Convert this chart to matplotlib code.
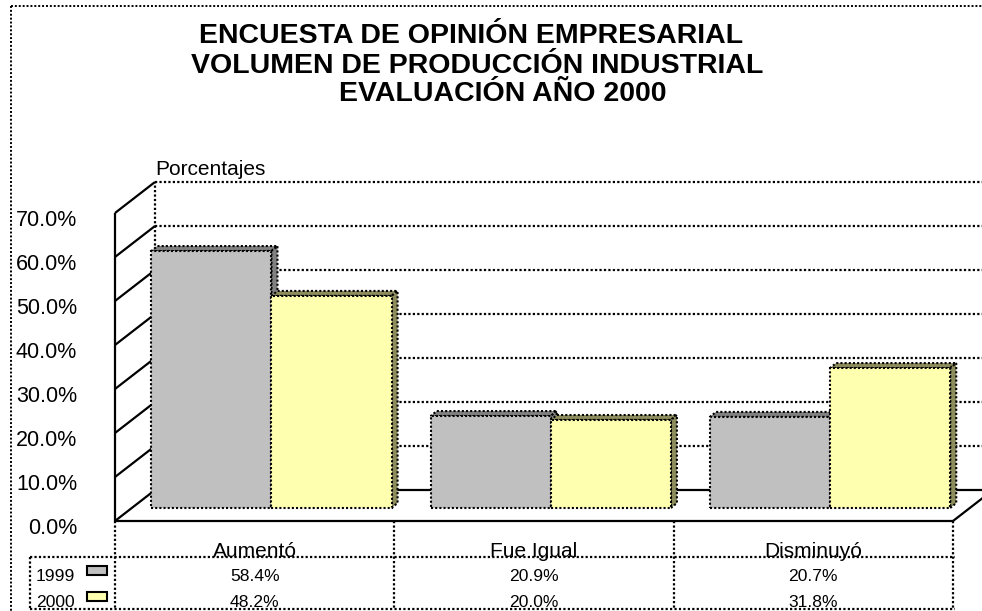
import matplotlib
matplotlib.use("Agg")
import matplotlib.pyplot as plt
import matplotlib.transforms as mtransforms
from matplotlib.patches import Polygon, Rectangle

# data
categories = ["Aumentó", "Fue Igual", "Disminuyó"]
years = ["1999", "2000"]
values_1999 = [58.4, 20.9, 20.7]
values_2000 = [48.2, 20.0, 31.8]
series = {"1999": values_1999, "2000": values_2000}
yticks = [0, 10, 20, 30, 40, 50, 60, 70]
title_lines = ["ENCUESTA DE OPINIÓN EMPRESARIAL",
               "VOLUMEN DE PRODUCCIÓN INDUSTRIAL",
               "EVALUACIÓN AÑO 2000"]

face = {"1999": "#C0C0C0", "2000": "#FFFFB0"}
shade = {"1999": "#808080", "2000": "#8C8C5C"}

plt.rcParams["font.family"] = ["Liberation Sans", "DejaVu Sans"]

W, H, DPI = 982, 611, 100
fig = plt.figure(figsize=(W / DPI, H / DPI), dpi=DPI)
fig.patch.set_facecolor("white")
# pixel coords, origin top-left
pix = mtransforms.Affine2D().scale(1 / DPI, -1 / DPI).translate(0, H / DPI) + fig.dpi_scale_trans


def fx(x):
    return x / W


def fy(y):
    return 1 - y / H


# front plane of the 3d box
ax = fig.add_axes([fx(115), fy(521), fx(953) - fx(115), fy(213) - fy(521)])
ax.set_xlim(-0.5, 2.5)
ax.set_ylim(0, 70)
ax.axis("off")

DEPTH = (40, 31)      # pixel offset of the back wall
BAR_Z = (16.8, 13)    # where the bar fronts sit
BAR_T = (6, 5)        # thickness of the bars
BAR_W = 0.43
DOT = (0, (1, 1))
LW = 1.6


def shift(x, y, dx, dy):
    X, Y = ax.transData.transform((x, y))
    return tuple(ax.transData.inverted().transform((X + dx, Y + dy)))


def off(dx, dy):
    return ax.transData + mtransforms.ScaledTranslation(dx / DPI, dy / DPI, fig.dpi_scale_trans)


def seg(p, q, **kw):
    ax.plot([p[0], q[0]], [p[1], q[1]], color="black", lw=LW, clip_on=False,
            solid_capstyle="butt", **kw)


x_lo, x_hi = -0.5, 2.5
y_top = yticks[-1]

# back wall + gridlines
for t in yticks[1:]:
    seg(shift(x_lo, t, *DEPTH), shift(x_hi, t, *DEPTH), linestyle=DOT)
seg(shift(x_lo, 0, *DEPTH), shift(x_hi, 0, *DEPTH))
seg(shift(x_lo, 0, *DEPTH), shift(x_lo, y_top, *DEPTH), linestyle=DOT)

# side wall
for t in yticks:
    seg((x_lo, t), shift(x_lo, t, *DEPTH))
seg((x_lo, 0), (x_lo, y_top))

# floor
seg((x_lo, 0), (x_hi, 0), zorder=5)
seg((x_hi, 0), shift(x_hi, 0, *DEPTH))

# bars
zb = (BAR_Z[0] + BAR_T[0], BAR_Z[1] + BAR_T[1])
z = 3
for i, cat in enumerate(categories):
    for j, yr in enumerate(years):
        v = series[yr][i]
        x0 = i - BAR_W + j * BAR_W
        x1 = x0 + BAR_W
        front = [shift(x0, 0, *BAR_Z), shift(x1, 0, *BAR_Z), shift(x1, v, *BAR_Z), shift(x0, v, *BAR_Z)]
        top = [shift(x0, v, *BAR_Z), shift(x1, v, *BAR_Z), shift(x1, v, *zb), shift(x0, v, *zb)]
        side = [shift(x1, 0, *BAR_Z), shift(x1, 0, *zb), shift(x1, v, *zb), shift(x1, v, *BAR_Z)]
        for poly, col in ((top, shade[yr]), (side, shade[yr]), (front, face[yr])):
            ax.add_patch(Polygon(poly, closed=True, facecolor=col, edgecolor="black",
                                 lw=1.5, linestyle=DOT, clip_on=False, zorder=z))
        z += 1

# value axis labels
for t in yticks:
    ax.text(x_lo, t, f"{t:.1f}%", transform=off(-38, -7), ha="right", va="center",
            fontsize=15.5, clip_on=False)
ax.text(x_lo, y_top, "Porcentajes", transform=off(DEPTH[0], DEPTH[1] + 7),
        ha="left", va="baseline", fontsize=15)

# data table under the chart
tb = mtransforms.blended_transform_factory(ax.transData, pix)
for k in range(len(categories) + 1):
    ax.plot([x_lo + k, x_lo + k], [521, 609], transform=tb, color="black", lw=LW,
            linestyle=DOT, clip_on=False)
for yy in (557, 609):
    fig.lines.append(plt.Line2D([30, 955], [yy, yy], transform=pix, color="black",
                                lw=LW, linestyle=DOT))
fig.lines.append(plt.Line2D([30, 30], [557, 609], transform=pix, color="black",
                            lw=LW, linestyle=DOT))

for i, cat in enumerate(categories):
    ax.text(i, 0, cat, transform=off(0, -36), ha="center", va="baseline", fontsize=15)

row_y = {"1999": 576.5, "2000": 602.5}
swatch_y = {"1999": 566, "2000": 592}
for yr in years:
    fig.text(36, row_y[yr], yr, transform=pix, ha="left", va="center", fontsize=12.6)
    fig.patches.append(Rectangle((87, swatch_y[yr]), 20, 9, transform=pix,
                                 facecolor=face[yr], edgecolor="black", lw=1.5))
    for i, v in enumerate(series[yr]):
        ax.text(i, row_y[yr], f"{v:.1f}%", transform=tb, ha="center", va="center",
                fontsize=12.6)

# outer chart border
fig.lines.append(plt.Line2D([11, 11], [6, H], transform=pix, color="black", lw=1.4, linestyle=DOT))
fig.lines.append(plt.Line2D([11, W], [6, 6], transform=pix, color="black", lw=1.4, linestyle=DOT))

# title
for line, cx, base in zip(title_lines, (471, 477, 503), (43, 73, 101)):
    fig.text(cx, base, line, transform=pix, ha="center", va="baseline",
             fontsize=20.5, fontweight="bold")

fig.savefig("out.png", dpi=DPI)
